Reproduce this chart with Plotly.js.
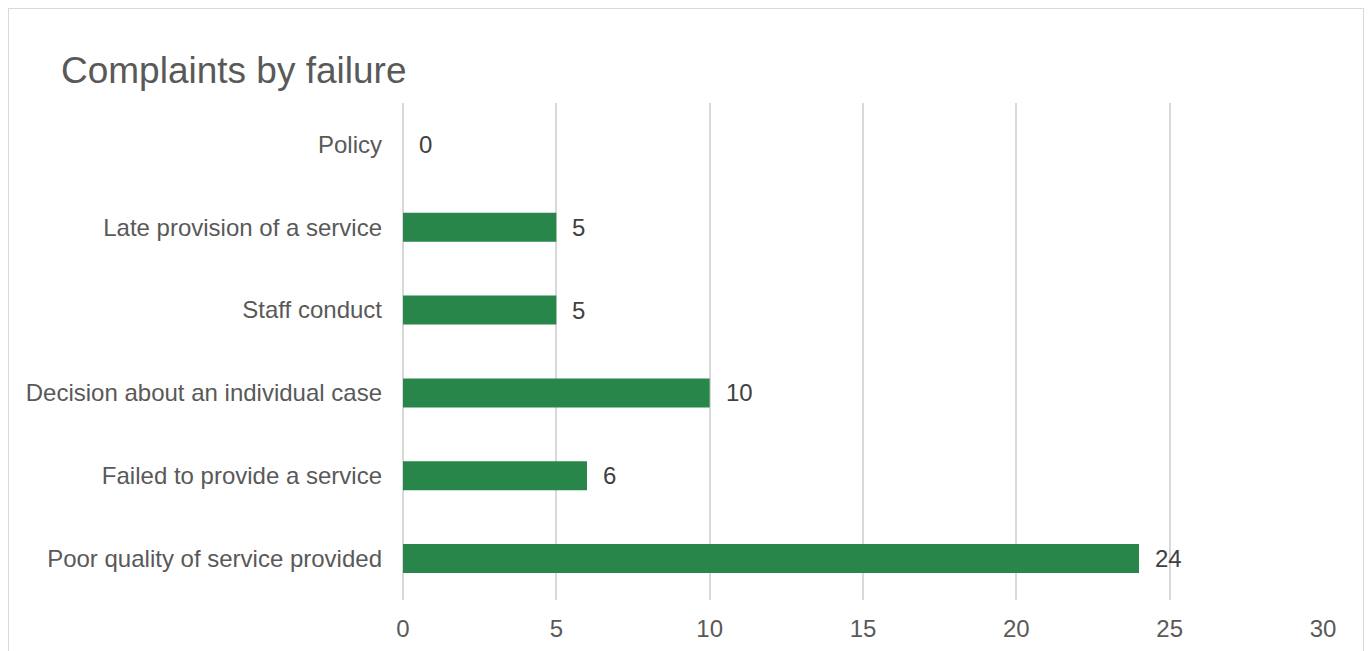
<!DOCTYPE html>
<html>
<head>
<meta charset="utf-8">
<script src="https://cdn.plot.ly/plotly-3.0.1.min.js"></script>
<style>
html,body{margin:0;padding:0;background:#fff;overflow:hidden;}
#frame{position:absolute;left:8px;top:8px;width:1356px;height:700px;border:1px solid #d9d9d9;box-sizing:border-box;pointer-events:none;z-index:5;}
#chart{position:absolute;left:0;top:0;width:1371px;height:651px;}
</style>
</head>
<body>
<div id="chart"></div>
<div id="frame"></div>
<script>
const categories = ["Policy","Late provision of a service","Staff conduct","Decision about an individual case","Failed to provide a service","Poor quality of service provided"];
const counts = [0,5,5,10,6,24];
const xTicks = [0,5,10,15,20,25,30];

const trace = {
  type: 'bar',
  orientation: 'h',
  x: counts,
  y: categories,
  marker: {color: '#28864a'},
  width: 0.35,
  hoverinfo: 'x+y'
};

const annotations = counts.map((v, i) => ({
  x: v, y: categories[i], xref: 'x', yref: 'y',
  text: String(v), showarrow: false, xanchor: 'left', xshift: 14,
  font: {family: 'Liberation Sans, Arial, sans-serif', size: 24, color: '#404040'}
}));

const layout = {
  width: 1371, height: 651,
  margin: {l: 403, r: 48, t: 103, b: 51},
  paper_bgcolor: '#ffffff', plot_bgcolor: '#ffffff',
  font: {family: 'Liberation Sans, Arial, sans-serif', size: 24, color: '#595959'},
  title: {
    text: 'Complaints by failure',
    font: {family: 'Liberation Sans, Arial, sans-serif', size: 37, color: '#595959'},
    xref: 'container', x: 0.0445, xanchor: 'left',
    yref: 'container', y: 0.892, yanchor: 'middle'
  },
  xaxis: {
    range: [0, 30], tickvals: xTicks, ticktext: xTicks.map(String),
    showgrid: true, gridcolor: '#d9d9d9', gridwidth: 2,
    zeroline: true, zerolinecolor: '#d9d9d9', zerolinewidth: 2,
    showline: false, ticks: '', ticklabelstandoff: 12,
    fixedrange: true
  },
  yaxis: {
    type: 'category', autorange: 'reversed',
    showgrid: false, zeroline: false, showline: false,
    ticks: '', ticklabelstandoff: 20, fixedrange: true
  },
  annotations: annotations,
  showlegend: false,
  bargap: 0.65
};

Plotly.newPlot('chart', [trace], layout, {displayModeBar: false, staticPlot: true});
</script>
</body>
</html>
